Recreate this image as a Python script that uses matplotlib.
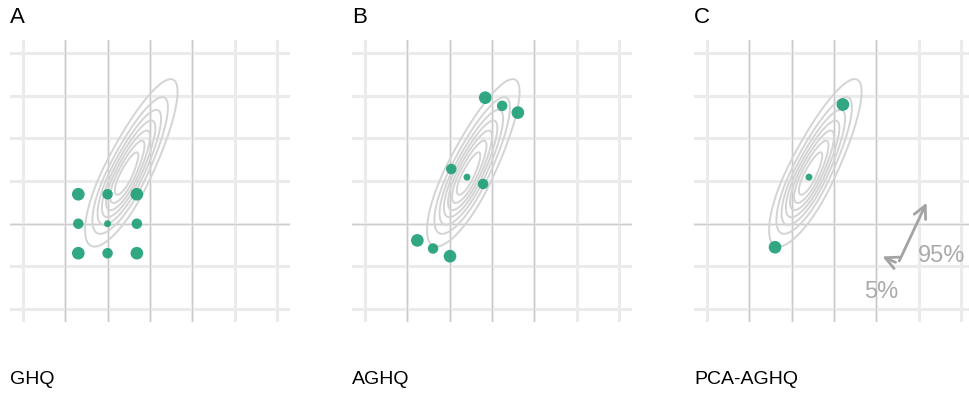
import numpy as np
import matplotlib
matplotlib.use("Agg")
import matplotlib.pyplot as plt

plt.rcParams['font.family'] = ['Liberation Sans', 'DejaVu Sans']

# Posterior mode and shape of the (skewed) density used for the contours:
# angle of the major axis, spread above / below the mode along it, spread across it
mode = [-0.59, 0.09]
major_angle = 63.5
sd_major_up = 1.25
sd_major_down = 0.88
sd_minor = 0.27

# Quadrature nodes (x, y) and size class (1 = small, 2 = medium, 3 = large)
ghq_x = [-1.69, -1.00, -0.31, -1.69, -1.00, -0.31, -1.69, -1.00, -0.31]
ghq_y = [-0.31, -0.31, -0.31, -1.00, -1.00, -1.00, -1.69, -1.69, -1.69]
ghq_size = [3, 2, 3, 2, 1, 2, 3, 2, 3]

aghq_x = [-1.76, -1.39, -0.99, -0.96, -0.59, -0.21, -0.16, 0.24, 0.61]
aghq_y = [-1.39, -1.58, -1.76, 0.28, 0.09, -0.07, 1.95, 1.76, 1.60]
aghq_size = [3, 2, 3, 2, 1, 2, 3, 2, 3]

pca_x = [-1.39, -0.59, 0.21]
pca_y = [-1.55, 0.09, 1.79]
pca_size = [3, 1, 3]

panel_tags = ["A", "B", "C"]
panel_names = ["GHQ", "AGHQ", "PCA-AGHQ"]

# principal component arrows: origin, 95% direction, 5% direction
pc_origin = (1.51, -1.93)
pc_major = (0.70, 1.48)
pc_minor = (-0.43, 0.19)

green = "#1b9e77"
size_map = {1: 25, 2: 57, 3: 83}

# density grid for the contours (two-piece normal along the major axis)
gx, gy = np.meshgrid(np.linspace(-3.3, 3.3, 500), np.linspace(-3.3, 3.3, 500))
th = np.deg2rad(major_angle)
dx = gx - mode[0]
dy = gy - mode[1]
u = dx * np.cos(th) + dy * np.sin(th)
v = -dx * np.sin(th) + dy * np.cos(th)
su = np.where(u > 0, sd_major_up, sd_major_down)
dens = np.exp(-0.5 * ((u / su) ** 2 + (v / sd_minor) ** 2))
levels = [k / 8 for k in range(1, 8)]

fig = plt.figure(figsize=(9.69, 3.94), dpi=100)

lefts = [10, 352, 694]
points = [(ghq_x, ghq_y, ghq_size), (aghq_x, aghq_y, aghq_size), (pca_x, pca_y, pca_size)]
ticks = np.arange(-3, 4)

for i in range(3):
    ax = fig.add_axes([lefts[i] / 969, 72 / 394, 280 / 969, 282 / 394])
    ax.set_xlim(-3.3, 3.3)
    ax.set_ylim(-3.3, 3.3)
    ax.axis("off")

    for t in ticks:
        ax.axvline(t, color="#ebebeb", lw=2.2, zorder=0)
        ax.axhline(t, color="#ebebeb", lw=2.2, zorder=0)
    for t in [-2, -1, 0, 1]:
        ax.axvline(t, color="#c8c8c8", lw=0.7, zorder=0.5)
    ax.axhline(-1, color="#cdcdcd", lw=0.7, zorder=0.5)

    ax.contour(gx, gy, dens, levels=levels, colors="#d4d4d4", linewidths=1.4, zorder=1)

    xs, ys, ss = points[i]
    ax.scatter(xs, ys, s=[size_map[s] for s in ss], color=green, alpha=0.9,
               edgecolors="none", zorder=3)

    fig.text(lefts[i] / 969, 1 - 23 / 394, panel_tags[i], fontsize=16, va="baseline")
    fig.text(lefts[i] / 969, 1 - 384 / 394, panel_names[i], fontsize=14, va="baseline")

    if i == 2:
        arrow = dict(arrowstyle="->,head_length=0.9,head_width=0.45", color="#a3a3a3", lw=2.0)
        ox, oy = pc_origin
        ax.annotate("", xy=(ox + pc_major[0], oy + pc_major[1]), xytext=(ox, oy),
                    arrowprops=arrow, zorder=4)
        ax.annotate("", xy=(ox + pc_minor[0], oy + pc_minor[1]), xytext=(ox, oy),
                    arrowprops=arrow, zorder=4)
        ax.text(1.98, -1.9, "95%", color="#aaaaaa", fontsize=17, va="baseline", zorder=4)
        ax.text(0.71, -2.75, "5%", color="#aaaaaa", fontsize=17, va="baseline", zorder=4)

fig.savefig("out.png", dpi=100)
